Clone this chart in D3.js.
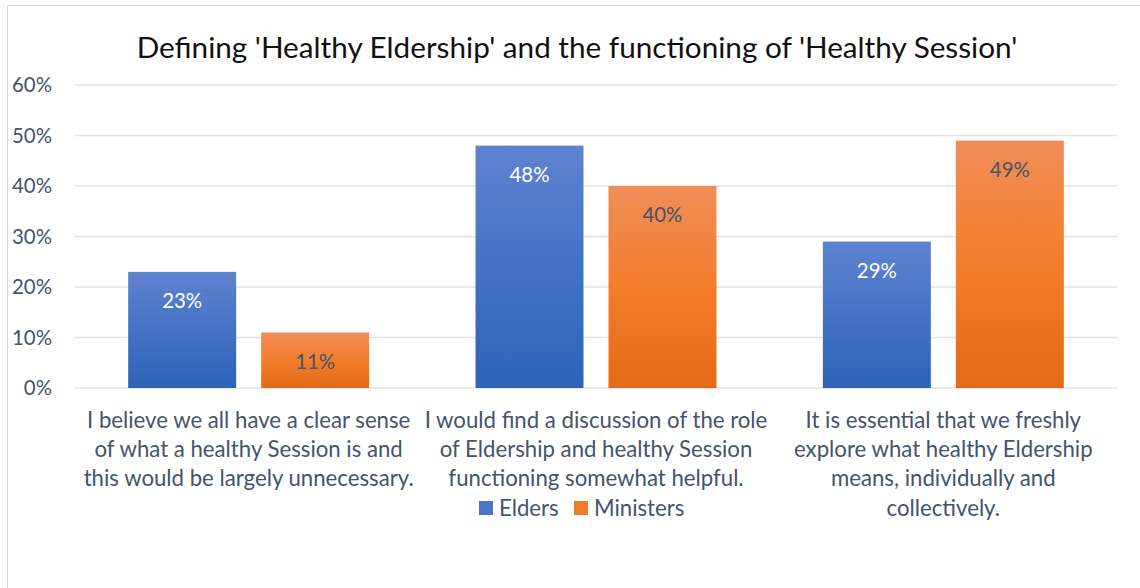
<!DOCTYPE html>
<html>
<head>
<meta charset="utf-8">
<script src="https://cdn.jsdelivr.net/npm/d3@7"></script>
<style>
  html, body { margin: 0; padding: 0; background: #fff; }
  svg { display: block; font-family: Lato, "Liberation Sans", Arial, sans-serif; }
</style>
</head>
<body>
<svg id="chart" width="1140" height="588"></svg>
<script>
const title = "Defining 'Healthy Eldership' and the functioning of 'Healthy Session'";
const categories = ["c1", "c2", "c3"];
const categoryLines = [
  ["I believe we all have a clear sense", "of what a healthy Session is and", "this would be largely unnecessary."],
  ["I would find a discussion of the role", "of Eldership and healthy Session", "functioning somewhat helpful."],
  ["It is essential that we freshly", "explore what healthy Eldership", "means, individually and", "collectively."]
];
const seriesNames = ["Elders", "Ministers"];
const elders = [0.23, 0.48, 0.29];
const ministers = [0.11, 0.40, 0.49];
const yTicks = [0, 0.1, 0.2, 0.3, 0.4, 0.5, 0.6];

const svg = d3.select("#chart");
const W = 1140, H = 588;
const textColor = "#44546A";
const fontFam = "Lato, Liberation Sans, Arial, sans-serif";

// defs gradients
const defs = svg.append("defs");
const gb = defs.append("linearGradient").attr("id", "gBlue").attr("x1", 0).attr("y1", 0).attr("x2", 0).attr("y2", 1);
gb.append("stop").attr("offset", "0%").attr("stop-color", "#5f83cf");
gb.append("stop").attr("offset", "50%").attr("stop-color", "#4472c4");
gb.append("stop").attr("offset", "100%").attr("stop-color", "#2f62ba");
const go = defs.append("linearGradient").attr("id", "gOrange").attr("x1", 0).attr("y1", 0).attr("x2", 0).attr("y2", 1);
go.append("stop").attr("offset", "0%").attr("stop-color", "#f18d59");
go.append("stop").attr("offset", "50%").attr("stop-color", "#f37d2b");
go.append("stop").attr("offset", "100%").attr("stop-color", "#e36a16");
const fills = ["url(#gBlue)", "url(#gOrange)"];
const legendFills = ["#4a77c9", "#f27c2c"];
const labelColors = ["#ffffff", "#44546A"];

svg.append("rect").attr("width", W).attr("height", H).attr("fill", "#fff");
svg.append("rect").attr("x", 7.5).attr("y", 5.5).attr("width", W).attr("height", H + 20)
  .attr("fill", "none").attr("stroke", "#d9d9d9").attr("stroke-width", 1);

function fitSize(str, target) {
  const t = svg.append("text").attr("font-size", 20).attr("font-family", fontFam).text(str);
  const w = t.node().getComputedTextLength();
  t.remove();
  return 20 * target / w;
}

const y = d3.scaleLinear().domain([0, 0.6]).range([388, 85]);
const x0 = d3.scaleBand().domain(categories).range([75, 1117]).padding(0);
const x1 = d3.scaleBand().domain(seriesNames).range([0, x0.bandwidth()]).paddingInner(0.188).paddingOuter(0.4);

// gridlines
svg.append("g").selectAll("line").data(yTicks).join("line")
  .attr("x1", 75).attr("x2", 1117)
  .attr("y1", d => y(d)).attr("y2", d => y(d))
  .attr("stroke", "#dfe2e7").attr("stroke-width", 1.5);

// y axis labels
const tickSize = fitSize("60%", 40);
const yAxis = svg.append("g").attr("transform", "translate(60,0)")
  .call(d3.axisLeft(y).tickValues(yTicks).tickFormat(d3.format(".0%")).tickSize(0).tickPadding(8));
yAxis.select(".domain").remove();
yAxis.selectAll("text").attr("font-size", tickSize).attr("fill", textColor)
  .attr("font-family", fontFam);

// bars
const rows = categories.map((c, i) => ({ cat: c, vals: [elders[i], ministers[i]] }));
const groups = svg.append("g").selectAll("g").data(rows).join("g")
  .attr("transform", d => `translate(${x0(d.cat)},0)`);
groups.selectAll("rect").data(d => d.vals.map((v, k) => ({ v, k }))).join("rect")
  .attr("x", d => x1(seriesNames[d.k]))
  .attr("width", x1.bandwidth())
  .attr("y", d => y(d.v))
  .attr("height", d => y(0) - y(d.v))
  .attr("fill", d => fills[d.k]);

const labelSize = fitSize("23%", 40);
groups.selectAll("text.val").data(d => d.vals.map((v, k) => ({ v, k }))).join("text")
  .attr("class", "val")
  .attr("x", d => x1(seriesNames[d.k]) + x1.bandwidth() / 2)
  .attr("y", d => y(d.v) + 29)
  .attr("dy", "0.35em")
  .attr("text-anchor", "middle")
  .attr("font-size", labelSize)
  .attr("fill", d => labelColors[d.k])
  .text(d => d3.format(".0%")(d.v));

// category labels
const catSize = fitSize("I would find a discussion of the role", 343);
categoryLines.forEach((lines, i) => {
  const cx = x0(categories[i]) + x0.bandwidth() / 2;
  svg.append("g").selectAll("text").data(lines).join("text")
    .attr("x", cx)
    .attr("y", (d, j) => 420 + j * 29.3)
    .attr("dy", "0.35em")
    .attr("text-anchor", "middle")
    .attr("font-size", catSize)
    .attr("fill", textColor)
    .text(d => d);
});

// legend
const legend = svg.append("g");
const legendItems = [{ x: 479 }, { x: 574 }];
legendItems.forEach((it, k) => {
  legend.append("rect").attr("x", it.x).attr("y", 501).attr("width", 14).attr("height", 14).attr("fill", legendFills[k]);
  legend.append("text").attr("x", it.x + 20).attr("y", 508).attr("dy", "0.35em")
    .attr("font-size", catSize).attr("fill", textColor).text(seriesNames[k]);
});

// title
const titleSize = fitSize(title, 881);
svg.append("text").attr("x", 577).attr("y", 48).attr("dy", "0.35em")
  .attr("text-anchor", "middle").attr("font-size", titleSize).attr("fill", "#111")
  .text(title);
</script>
</body>
</html>
